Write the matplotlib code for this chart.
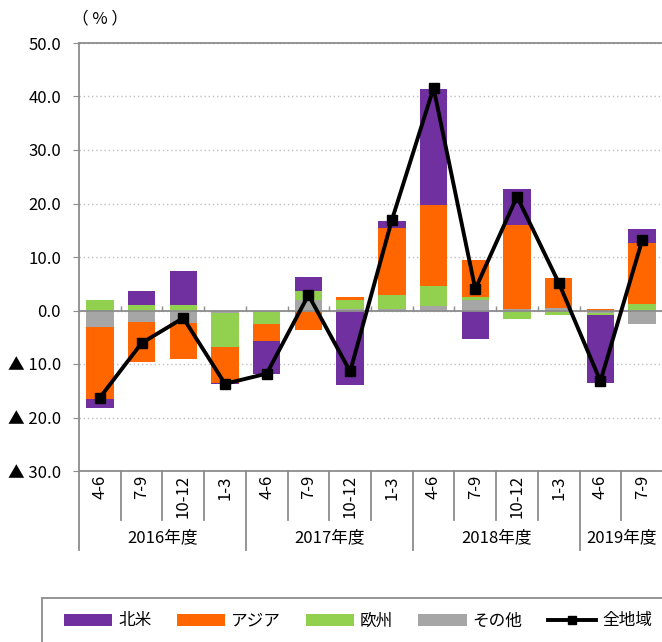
import matplotlib
matplotlib.use('Agg')
import matplotlib.pyplot as plt
from matplotlib.lines import Line2D
from matplotlib.patches import Patch, Rectangle
import numpy as np

plt.rcParams['font.family'] = ['Noto Sans CJK JP', 'DejaVu Sans']

# ---- data ----
quarters = ["4-6", "7-9", "10-12", "1-3",
            "4-6", "7-9", "10-12", "1-3",
            "4-6", "7-9", "10-12", "1-3",
            "4-6", "7-9"]
years = ["2016年度", "2017年度", "2018年度", "2019年度"]
year_sizes = [4, 4, 4, 2]

north_america = [-1.7, 2.5, 6.3, -0.3, -6.1, 2.6, -14.0, 1.2, 21.6, -5.4, 6.8, 0.0, -12.6, 2.6]
asia = [-13.5, -7.5, -6.7, -6.7, -3.2, -3.6, 0.5, 12.6, 15.3, 6.8, 15.6, 5.5, 0.3, 11.4]
europe = [1.9, 1.1, 1.1, -6.4, -2.2, 1.8, 1.75, 2.6, 3.7, 0.55, -1.5, -0.8, -0.5, 1.3]
other = [-3.0, -2.2, -2.3, -0.4, -0.3, 1.9, 0.3, 0.3, 0.8, 2.0, 0.3, 0.5, -0.4, -2.5]
total = [-16.3, -6.1, -1.4, -13.7, -11.8, 2.9, -11.4, 16.9, 41.6, 4.0, 21.3, 5.2, -13.2, 13.1]

series_names = ["北米", "アジア", "欧州", "その他"]
total_name = "全地域"
series_colors = ["#7030A0", "#FF6600", "#92D050", "#A6A6A6"]

yticks = [-30, -20, -10, 0, 10, 20, 30, 40, 50]
ytick_labels = ["▲ 30.0", "▲ 20.0", "▲ 10.0", "0.0", "10.0", "20.0", "30.0", "40.0", "50.0"]
unit_label = "（ % ）"

# ---- figure ----
W, H = 662, 642
fig = plt.figure(figsize=(W / 100, H / 100), dpi=100)
ax_left, ax_right, ax_top, ax_bottom = 79, 663, 43, 471
ax = fig.add_axes([ax_left / W, 1 - ax_bottom / H, (ax_right - ax_left) / W, (ax_bottom - ax_top) / H])

axis_gray = "#8C8C8C"
n = len(quarters)
x = np.arange(n)

# stacking order from the zero line outward: その他, 欧州, アジア, 北米
stack = [(other, series_colors[3]), (europe, series_colors[2]),
         (asia, series_colors[1]), (north_america, series_colors[0])]
pos = np.zeros(n)
neg = np.zeros(n)
for vals, color in stack:
    v = np.array(vals, dtype=float)
    bottom = np.where(v >= 0, pos, neg)
    ax.bar(x, v, 0.66, bottom=bottom, color=color, zorder=2, linewidth=0)
    pos += np.where(v >= 0, v, 0)
    neg += np.where(v < 0, v, 0)

ax.plot(x, total, color="black", lw=2.8, marker="s", ms=7.5, zorder=4)

ax.set_xlim(-0.5, n - 0.5)
ax.set_ylim(-30, 50)

# gridlines
ax.set_yticks(yticks)
ax.set_yticklabels(ytick_labels)
ax.yaxis.grid(True, linestyle=(0, (1, 2)), color="#BFBFBF", lw=1.0, zorder=0)
ax.set_axisbelow(True)
ax.axhline(0, color=axis_gray, lw=1.3, zorder=3)

# small ticks at category boundaries on zero line
bounds = np.arange(-0.5, n, 1.0)
ax.vlines(bounds[1:], 0, 0.9, color=axis_gray, lw=1.0, zorder=3)

for s in ax.spines.values():
    s.set_color(axis_gray)
    s.set_linewidth(1.3)

ax.tick_params(axis="y", length=4, color=axis_gray, pad=9, labelsize=12)
ax.set_xticks(x)
ax.set_xticklabels(quarters, rotation=90, va="top", fontsize=12)
ax.tick_params(axis="x", length=0, pad=3)

# category separators and year labels
trans = ax.get_xaxis_transform()
year_starts = np.concatenate([[0], np.cumsum(year_sizes)])
for b in range(n + 1):
    xb = b - 0.5
    y_end = -0.1846 if b in year_starts else -0.1145
    ax.plot([xb, xb], [0, y_end], transform=trans, color=axis_gray, lw=1.3, clip_on=False)
for i, yr in enumerate(years):
    c = year_starts[i] + year_sizes[i] / 2 - 0.5
    ax.text(c, -0.1565, yr, transform=trans, ha="center", va="center", fontsize=12)

fig.text(100 / W, 1 - 18.5 / H, unit_label, ha="center", va="center", fontsize=12)

# legend frame (extends past the right edge as in the reference)
frame = Rectangle((42 / W, 1 - 660 / H), (680 - 42) / W, (660 - 598) / H,
                  transform=fig.transFigure, facecolor="white", edgecolor=axis_gray,
                  lw=1.3, zorder=0)
fig.add_artist(frame)

handles = [Patch(facecolor=c, edgecolor="none") for c in series_colors]
handles.append(Line2D([0], [0], color="black", lw=2.8, marker="s", ms=6))
labels = series_names + [total_name]
leg = fig.legend(handles, labels, loc="center left", bbox_to_anchor=(64 / W, 1 - 621 / H),
                 ncol=5, frameon=False, fontsize=12,
                 handlelength=2.9, handletextpad=0.36, columnspacing=1.5, borderpad=0,
                 borderaxespad=0)

fig.savefig("out.png", dpi=100)
